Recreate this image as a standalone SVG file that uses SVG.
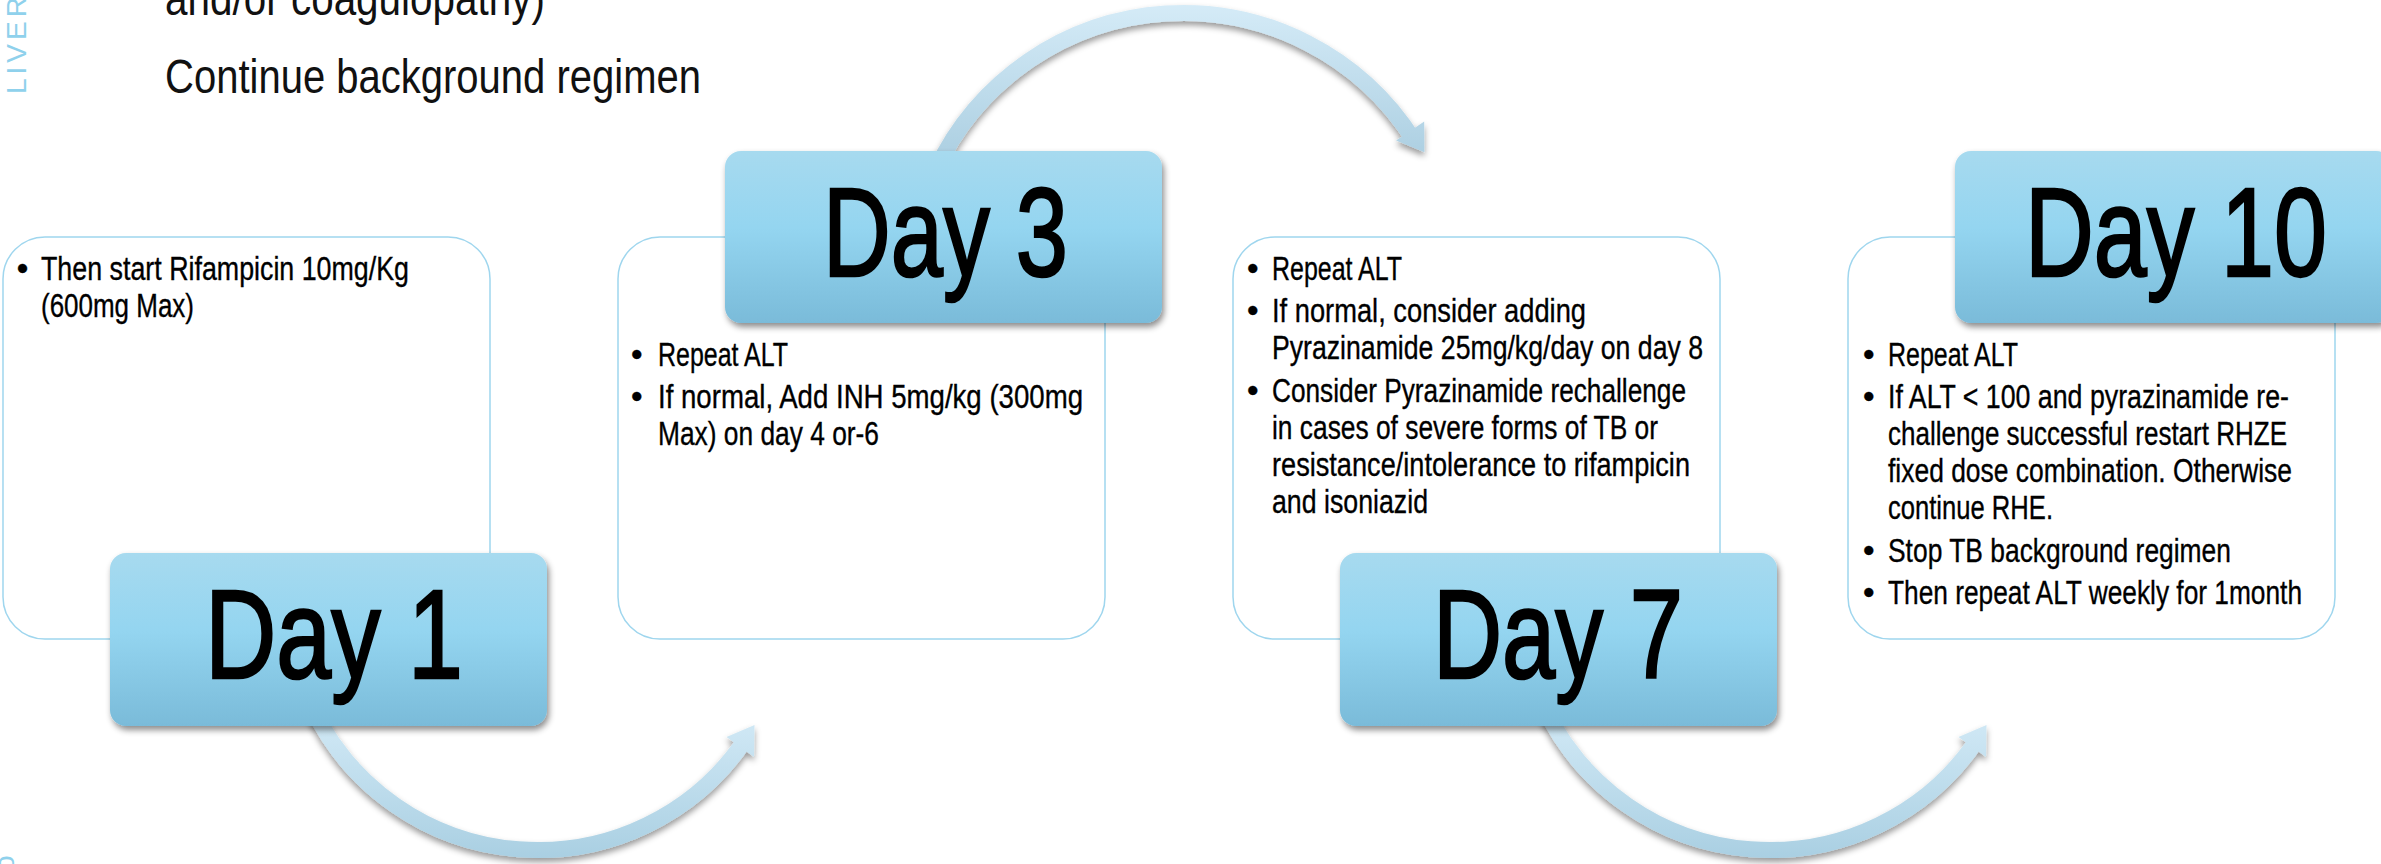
<svg xmlns="http://www.w3.org/2000/svg" width="2381" height="864" viewBox="0 0 2381 864">
  <defs>
    <linearGradient id="tabGrad" x1="0" y1="0" x2="0" y2="1">
      <stop offset="0" stop-color="#a7daef"/>
      <stop offset="0.45" stop-color="#94d5f0"/>
      <stop offset="1" stop-color="#7abbd9"/>
    </linearGradient>
    <linearGradient id="arrowLow" gradientUnits="userSpaceOnUse" x1="0" y1="700" x2="0" y2="860">
      <stop offset="0" stop-color="#d6ecf8"/>
      <stop offset="1" stop-color="#a9cfe2"/>
    </linearGradient>
    <linearGradient id="arrowHigh" gradientUnits="userSpaceOnUse" x1="0" y1="0" x2="0" y2="170">
      <stop offset="0" stop-color="#d6ecf8"/>
      <stop offset="1" stop-color="#a9cde0"/>
    </linearGradient>
    <filter id="tabShadow" x="-10%" y="-10%" width="125%" height="130%">
      <feDropShadow dx="2" dy="4" stdDeviation="3" flood-color="#000" flood-opacity="0.45"/>
    </filter>
    <filter id="arrowShadow" x="-10%" y="-20%" width="120%" height="150%">
      <feDropShadow dx="0" dy="4" stdDeviation="3" flood-color="#000" flood-opacity="0.4"/>
    </filter>
    <style>
      .box { fill:#ffffff; stroke:#9fd6ee; stroke-width:1.5; }
      .tab { fill:url(#tabGrad); filter:url(#tabShadow); }
      .body { font-family:"Liberation Sans", Arial, sans-serif; font-size:33px; fill:#000; stroke:#000; stroke-width:0.35; }
      .lbl { font-family:"Liberation Sans", Arial, sans-serif; font-size:127px; fill:#000; stroke:#000; stroke-width:2.5; }
      .top { font-family:"Liberation Sans", Arial, sans-serif; font-size:49px; fill:#111; }
      .side { font-family:"Liberation Sans", Arial, sans-serif; font-size:28px; fill:#8fd1ec; letter-spacing:4px; }
      .band { fill:none; stroke-width:16; stroke-linecap:butt; }
    </style>
  </defs>

  <rect x="0" y="0" width="2381" height="864" fill="#ffffff"/>

  <!-- page texts -->
  <text class="side" transform="translate(26,94) rotate(-90)">LIVER</text>
  <text class="side" transform="translate(14,871) rotate(-90)">o</text>
  <text class="top" x="165" y="15" textLength="380" lengthAdjust="spacingAndGlyphs">and/or coagulopathy)</text>
  <text class="top" x="165" y="93" textLength="536" lengthAdjust="spacingAndGlyphs">Continue background regimen</text>

  <!-- connectors -->
  <g id="connectors">
    <g id="arrow-day1-day3" filter="url(#arrowShadow)">
      <path class="band" stroke="url(#arrowLow)" d="M 311.4 705.7 A 250 250 0 0 0 745.3 739.8"/>
      <polygon fill="url(#arrowLow)" points="726.5,737 754.5,725 754,756.9"/>
    </g>
    <g id="arrow-day3-day7" filter="url(#arrowShadow)">
      <path class="band" stroke="url(#arrowHigh)" d="M 935.6 170.6 A 273 273 0 0 1 1413.8 140.1"/>
      <polygon fill="url(#arrowHigh)" points="1396.1,140.6 1424.4,152.2 1424.2,121.5"/>
    </g>
    <g id="arrow-day7-day10" filter="url(#arrowShadow)">
      <path class="band" stroke="url(#arrowLow)" d="M 1543.4 705.7 A 250 250 0 0 0 1977.3 739.8"/>
      <polygon fill="url(#arrowLow)" points="1958.5,737 1986.5,725 1986,756.9"/>
    </g>
  </g>

  <!-- Day 1 -->
  <g id="day1">
    <rect class="box" x="3" y="237" width="487" height="402" rx="42" ry="42"/>
    <text class="body" x="16.7" y="280">•</text>
    <text class="body" x="41" y="280" textLength="368" lengthAdjust="spacingAndGlyphs">Then start Rifampicin 10mg/Kg</text>
    <text class="body" x="41" y="317" textLength="153" lengthAdjust="spacingAndGlyphs">(600mg Max)</text>
    <rect class="tab" x="110" y="553" width="437" height="173" rx="16" ry="16"/>
    <text class="lbl" x="205" y="678" textLength="258" lengthAdjust="spacingAndGlyphs">Day 1</text>
  </g>

  <!-- Day 3 -->
  <g id="day3">
    <rect class="box" x="618" y="237" width="487" height="402" rx="42" ry="42"/>
    <text class="body" x="631" y="366">•</text>
    <text class="body" x="658" y="366" textLength="130" lengthAdjust="spacingAndGlyphs">Repeat ALT</text>
    <text class="body" x="631" y="408">•</text>
    <text class="body" x="658" y="408" textLength="425" lengthAdjust="spacingAndGlyphs">If normal, Add INH 5mg/kg (300mg</text>
    <text class="body" x="658" y="445" textLength="221" lengthAdjust="spacingAndGlyphs">Max) on day 4 or-6</text>
    <rect class="tab" x="725" y="151" width="437" height="172" rx="16" ry="16"/>
    <text class="lbl" x="823" y="276" textLength="245" lengthAdjust="spacingAndGlyphs">Day 3</text>
  </g>

  <!-- Day 7 -->
  <g id="day7">
    <rect class="box" x="1233" y="237" width="487" height="402" rx="42" ry="42"/>
    <text class="body" x="1247" y="280">•</text>
    <text class="body" x="1272" y="280" textLength="130" lengthAdjust="spacingAndGlyphs">Repeat ALT</text>
    <text class="body" x="1247" y="322">•</text>
    <text class="body" x="1272" y="322" textLength="314" lengthAdjust="spacingAndGlyphs">If normal, consider adding</text>
    <text class="body" x="1272" y="359" textLength="431" lengthAdjust="spacingAndGlyphs">Pyrazinamide 25mg/kg/day on day 8</text>
    <text class="body" x="1247" y="402">•</text>
    <text class="body" x="1272" y="402" textLength="414" lengthAdjust="spacingAndGlyphs">Consider Pyrazinamide rechallenge</text>
    <text class="body" x="1272" y="439" textLength="386" lengthAdjust="spacingAndGlyphs">in cases of severe forms of TB or</text>
    <text class="body" x="1272" y="476" textLength="418" lengthAdjust="spacingAndGlyphs">resistance/intolerance to rifampicin</text>
    <text class="body" x="1272" y="513" textLength="156" lengthAdjust="spacingAndGlyphs">and isoniazid</text>
    <rect class="tab" x="1340" y="553" width="437" height="173" rx="16" ry="16"/>
    <text class="lbl" x="1433" y="678" textLength="250" lengthAdjust="spacingAndGlyphs">Day 7</text>
  </g>

  <!-- Day 10 -->
  <g id="day10">
    <rect class="box" x="1848" y="237" width="487" height="402" rx="42" ry="42"/>
    <text class="body" x="1863" y="366">•</text>
    <text class="body" x="1888" y="366" textLength="130" lengthAdjust="spacingAndGlyphs">Repeat ALT</text>
    <text class="body" x="1863" y="408">•</text>
    <text class="body" x="1888" y="408" textLength="401" lengthAdjust="spacingAndGlyphs">If ALT &lt; 100 and pyrazinamide re-</text>
    <text class="body" x="1888" y="445" textLength="399" lengthAdjust="spacingAndGlyphs">challenge successful restart RHZE</text>
    <text class="body" x="1888" y="482" textLength="404" lengthAdjust="spacingAndGlyphs">fixed dose combination. Otherwise</text>
    <text class="body" x="1888" y="519" textLength="165" lengthAdjust="spacingAndGlyphs">continue RHE.</text>
    <text class="body" x="1863" y="562">•</text>
    <text class="body" x="1888" y="562" textLength="343" lengthAdjust="spacingAndGlyphs">Stop TB background regimen</text>
    <text class="body" x="1863" y="604">•</text>
    <text class="body" x="1888" y="604" textLength="414" lengthAdjust="spacingAndGlyphs">Then repeat ALT weekly for 1month</text>
    <rect class="tab" x="1955" y="151" width="437" height="172" rx="16" ry="16"/>
    <text class="lbl" x="2025" y="276" textLength="302" lengthAdjust="spacingAndGlyphs">Day 10</text>
  </g>
</svg>
